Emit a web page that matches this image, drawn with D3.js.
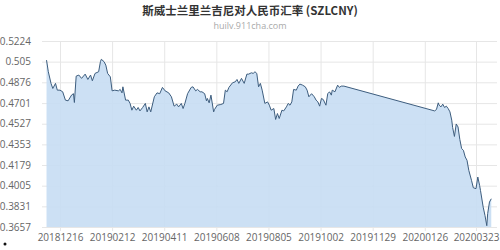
<!DOCTYPE html>
<html>
<head>
<meta charset="utf-8">
<script src="https://cdn.jsdelivr.net/npm/d3@7"></script>
<style>
  body { margin: 0; background: #fff; }
  svg { display: block; }
</style>
</head>
<body>
<svg id="chart" width="500" height="250"></svg>
<script>
'use strict'

// data
const dates = [
  '20181201','20181203','20181206','20181208','20181211','20181213','20181216','20181219','20181222','20181225',
  '20181229','20181231','20190101','20190103','20190106','20190109','20190113','20190116','20190119','20190121',
  '20190124','20190128','20190130','20190131','20190203','20190205','20190207','20190210','20190212','20190215',
  '20190219','20190221','20190223','20190224','20190227','20190302','20190304','20190306','20190308','20190311',
  '20190313','20190315','20190318','20190321','20190323','20190325','20190327','20190331','20190403','20190406',
  '20190409','20190412','20190416','20190419','20190422','20190425','20190427','20190430','20190502','20190504',
  '20190507','20190511','20190513','20190516','20190518','20190521','20190523','20190526','20190528','20190529',
  '20190531','20190602','20190605','20190606','20190609','20190613','20190616','20190618','20190620','20190622',
  '20190626','20190629','20190701','20190703','20190706','20190709','20190712','20190714','20190717','20190719',
  '20190721','20190723','20190725','20190727','20190729','20190801','20190804','20190806','20190808','20190811',
  '20190813','20190815','20190817','20190820','20190822','20190825','20190827','20190829','20190831','20190902',
  '20190905','20190907','20190909','20190912','20190915','20190917','20190919','20190922','20190925','20190927',
  '20190929','20191001','20191003','20191005','20191008','20191010','20191012','20191014','20191015','20191018',
  '20191021','20191023','20191025','20191028','20200206','20200208','20200210','20200211','20200213','20200215',
  '20200217','20200219','20200221','20200223','20200225','20200226','20200228','20200301','20200303','20200305',
  '20200307','20200309','20200311','20200313','20200315','20200318','20200320','20200323','20200325','20200327',
  '20200328','20200331','20200402','20200404','20200405','20200407','20200409'
]
const rates = [
  0.5063,0.4965,0.4867,0.4824,0.4867,0.4810,0.4810,0.4796,0.4726,0.4720,
  0.4770,0.4780,0.4706,0.4928,0.4937,0.4909,0.4945,0.4900,0.4937,0.4889,
  0.4951,0.4965,0.5050,0.5070,0.5050,0.5021,0.4951,0.4922,0.4804,0.4810,
  0.4804,0.4816,0.4787,0.4838,0.4726,0.4726,0.4698,0.4641,0.4675,0.4641,
  0.4664,0.4635,0.4664,0.4698,0.4627,0.4669,0.4627,0.4754,0.4787,0.4780,
  0.4833,0.4804,0.4787,0.4754,0.4675,0.4692,0.4669,0.4698,0.4655,0.4698,
  0.4780,0.4833,0.4838,0.4804,0.4816,0.4796,0.4796,0.4780,0.4720,0.4740,
  0.4703,0.4768,0.4627,0.4647,0.4683,0.4689,0.4698,0.4810,0.4796,0.4833,
  0.4872,0.4880,0.4900,0.4867,0.4909,0.4867,0.4945,0.4945,0.4956,0.4951,
  0.4965,0.4951,0.4838,0.4867,0.4810,0.4698,0.4711,0.4683,0.4641,0.4655,
  0.4563,0.4613,0.4571,0.4641,0.4635,0.4669,0.4698,0.4683,0.4711,0.4816,
  0.4810,0.4844,0.4861,0.4852,0.4838,0.4810,0.4754,0.4780,0.4754,0.4726,
  0.4711,0.4675,0.4740,0.4731,0.4683,0.4780,0.4796,0.4768,0.4810,0.4796,
  0.4852,0.4833,0.4844,0.4844,0.4635,0.4647,0.4703,0.4683,0.4669,0.4692,
  0.4664,0.4675,0.4655,0.4627,0.4557,0.4495,0.4420,0.4525,0.4500,0.4395,
  0.4318,0.4303,0.4247,0.4219,0.4134,0.4050,0.3988,0.3980,0.4078,0.4008,
  0.3965,0.3824,0.3754,0.3668,0.3770,0.3867,0.3895
]
const yTicks = [0.3657, 0.3831, 0.4005, 0.4179, 0.4353, 0.4527, 0.4701, 0.4876, 0.505, 0.5224]
const xTicks = ['20181216','20190212','20190411','20190608','20190805','20191002','20191129','20200126','20200323']

const parse = d3.timeParse('%Y%m%d')
const fmt = d3.timeFormat('%Y%m%d')

const plotLeft = 42, plotRight = 497, plotTop = 41, plotBottom = 227
const svg = d3.select('#chart')

// scales: x is time, so the dec-jan gap draws as one straight segment
const x = d3.scaleTime()
  .domain([parse('20181216'), parse('20200323')])
  .range([60, 476])
const y = d3.scaleLinear()
  .domain([yTicks[0], yTicks[yTicks.length - 1]])
  .range([plotBottom, plotTop])

const points = dates.map((d, i) => ({ date: parse(d), v: rates[i] }))

// grid
svg.append('g')
  .attr('transform', 'translate(' + plotLeft + ',0)')
  .call(d3.axisLeft(y).tickValues(yTicks).tickSize(plotLeft - plotRight).tickFormat(''))
  .call(g => g.select('.domain').remove())
  .call(g => g.selectAll('line').attr('stroke', '#e6e6e6'))

svg.append('g')
  .attr('transform', 'translate(0,' + plotTop + ')')
  .call(d3.axisBottom(x).tickValues(xTicks.map(parse)).tickSize(plotBottom - plotTop + 4).tickFormat(''))
  .call(g => g.select('.domain').remove())
  .call(g => g.selectAll('line').attr('stroke', '#e6e6e6'))

// area + line
svg.append('path')
  .datum(points)
  .attr('fill', '#c7ddf3')
  .attr('fill-opacity', 0.9)
  .attr('d', d3.area().x(d => x(d.date)).y0(plotBottom).y1(d => y(d.v)))

svg.append('path')
  .datum(points)
  .attr('fill', 'none')
  .attr('stroke', '#3d5d7e')
  .attr('stroke-width', 1)
  .attr('stroke-linejoin', 'round')
  .attr('d', d3.line().x(d => x(d.date)).y(d => y(d.v)))

// y labels
svg.append('g')
  .attr('transform', 'translate(' + plotLeft + ',0)')
  .call(d3.axisLeft(y).tickValues(yTicks).tickSize(0).tickPadding(11).tickFormat(d => String(d)))
  .call(g => g.select('.domain').remove())
  .call(g => g.selectAll('text')
    .attr('fill', '#666')
    .style('font', '10px "Open Sans", sans-serif'))

// x labels
svg.append('g')
  .attr('transform', 'translate(0,' + plotBottom + ')')
  .call(d3.axisBottom(x).tickValues(xTicks.map(parse)).tickSize(0).tickPadding(7).tickFormat(fmt))
  .call(g => g.select('.domain').remove())
  .call(g => g.selectAll('text')
    .attr('fill', '#666')
    .style('font', '10px "Open Sans", sans-serif'))

// titles
svg.append('text')
  .attr('x', 250).attr('y', 15)
  .attr('text-anchor', 'middle')
  .attr('fill', '#333')
  .style('font', 'bold 11.5px "Noto Sans CJK SC", sans-serif')
  .text('斯威士兰里兰吉尼对人民币汇率 (SZLCNY)')

svg.append('text')
  .attr('x', 250).attr('y', 29)
  .attr('text-anchor', 'middle')
  .attr('fill', '#aaa')
  .style('font', '9px "Open Sans", sans-serif')
  .text('huilv.911cha.com')

// stray dot bottom-left
svg.append('circle').attr('cx', 5).attr('cy', 244).attr('r', 1.5).attr('fill', '#111')
</script>
</body>
</html>
